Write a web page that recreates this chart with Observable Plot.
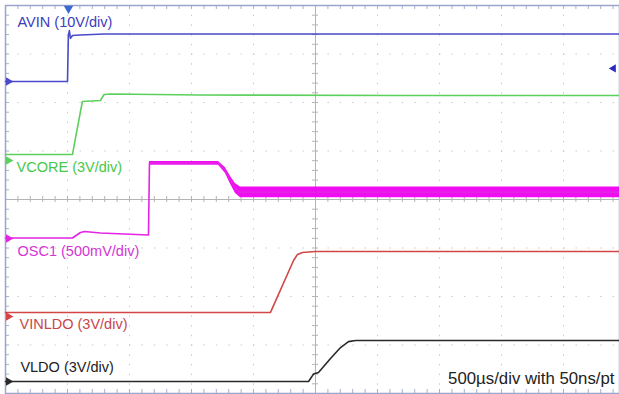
<!DOCTYPE html>
<html><head><meta charset="utf-8">
<script src="https://cdn.jsdelivr.net/npm/d3@7"></script>
<script src="https://cdn.jsdelivr.net/npm/@observablehq/plot@0.6"></script>
<style>
html,body{margin:0;padding:0;background:#fff;}
#chart{width:619px;height:394px;overflow:hidden;}
svg{display:block}
</style></head><body><div id="chart"></div>
<script>
// Time in µs (500 µs/div), 0 = screen centre. Voltages in V.
const avinT = [-2500, -2000, -1993, -1985, -1976, -1960, -1900, -1700, 2452];
const avinV = [0, 0, 9.5, 10.5, 8.9, 9.5, 9.6, 9.8, 9.8];
const vcoreT = [-2500, -1960, -1935, -1880, -1735, -1705, -1650, -930, 690, 2452];
const vcoreV = [0.37, 0.37, 1.42, 3.65, 3.71, 4.08, 4.11, 4.05, 4.02, 4.02];
const osc1T = [-2500, -1960, -1895, -1863, -1735, -1347, -1339, -1320, -782, -726, -685, -645, -605, 2452];
const osc1V = [0.005, 0.005, 0.062, 0.072, 0.057, 0.036, 0.775, 0.775, 0.775, 0.70, 0.60, 0.515, 0.475, 0.475];
const oscBandT = [-1339, -782, -726, -685, -645, -605, 2452];
const oscBandLo = [0.755, 0.755, 0.67, 0.56, 0.465, 0.42, 0.42];
const oscBandHi = [0.795, 0.795, 0.73, 0.64, 0.565, 0.53, 0.53];
const vinT = [-2500, -363, -177, -145, -105, 0, 2452];
const vinV = [0.25, 0.25, 3.46, 3.84, 3.96, 4.02, 4.02];
const vldoT = [-2500, -56, -16, 24, 121, 202, 266, 323, 2452];
const vldoV = [0, 0, 0.46, 0.56, 1.42, 2.10, 2.47, 2.54, 2.54];

const channelNames = ["AVIN (10V/div)", "VCORE (3V/div)", "OSC1 (500mV/div)", "VINLDO (3V/div)", "VLDO (3V/div)"];
const channelScale = [10, 3, 0.5, 3, 3];          // V/div
const channelOffset = [2.433, 0.804, -0.804, -2.412, -3.753]; // ground level, div from centre
const channelColor = ["#4a4acb", "#5cd05c", "#e424e4", "#d24646", "#2a2a2a"];
const labelColor = ["#3c3cc0", "#48c848", "#d634d6", "#c8464b", "#222222"];
const timebaseText = "500µs/div with 50ns/pt";
const triggerT = -1992;       // trigger position (µs)
const triggerLevelV = 2.7;    // AVIN trigger level (V)

const series = [[avinT, avinV], [vcoreT, vcoreV], [osc1T, osc1V], [vinT, vinV], [vldoT, vldoV]];
const toDiv = (i, v) => channelOffset[i] + v / channelScale[i];

const tracks = series.flatMap(([T, V], i) => T.map((t, k) => ({ch: i, t, y: toDiv(i, V[k])})));
const band = oscBandT.map((t, k) => ({t, lo: toDiv(2, oscBandLo[k]), hi: toDiv(2, oscBandHi[k])}));

const X0 = -2500, X1 = 2451.6;
const divs = d3.range(-4, 5).map(d => d * 500);
const ydivs = d3.range(-3, 4);
const subX = d3.range(-25, 25).map(d => d * 100);
const subY = d3.range(-20, 21).map(d => d * 0.2);
const pxX = 4952 / 614, pxY = 8 / 388;

const labels = channelNames.map((name, i) => ({name, i}));
const labelPos = [[-2403, 3.66], [-2411, 0.67], [-2403, -1.07], [-2387, -2.57], [-2380, -3.47]];

const chart = Plot.plot({
  width: 619, height: 394,
  marginLeft: 5, marginRight: 0, marginTop: 5, marginBottom: 1,
  x: {domain: [X0, X1], axis: null},
  y: {domain: [-4, 4], axis: null},
  style: {background: "#fff", fontFamily: "'Liberation Sans', Arial, sans-serif"},
  marks: [
    // dotted grid
    Plot.ruleX(divs.filter(d => d !== 0), {stroke: "#cacaca", strokeWidth: 1, strokeDasharray: "1.5 8.2"}),
    Plot.ruleY(ydivs.filter(d => d !== 0), {stroke: "#cacaca", strokeWidth: 1, strokeDasharray: "1.5 10.9"}),
    // centre axes
    Plot.ruleX([0], {stroke: "#b4b4b4", strokeWidth: 1}),
    Plot.ruleY([0], {stroke: "#b4b4b4", strokeWidth: 1}),
    Plot.ruleX(subX, {y1: -3 * pxY, y2: 3 * pxY, stroke: "#b4b4b4"}),
    Plot.ruleY(subY, {x1: -3 * pxX, x2: 3 * pxX, stroke: "#b4b4b4"}),
    // edge ticks
    Plot.ruleX(subX, {y1: 4, y2: 4 - 4 * pxY, stroke: "#a8b0cc"}),
    Plot.ruleX(subX, {y1: -4, y2: -4 + 4 * pxY, stroke: "#a8b0cc"}),
    Plot.ruleY(subY, {x1: X0, x2: X0 + 4 * pxX, stroke: "#a8b0cc"}),
    Plot.frame({stroke: "#9aa4cc", strokeWidth: 1.5}),
    // OSC1 noise envelope
    Plot.areaY(band, {x: "t", y1: "lo", y2: "hi", fill: "#f000f0", fillOpacity: 0.95}),
    // traces
    Plot.line(tracks, {x: "t", y: "y", z: "ch", stroke: d => channelColor[d.ch], strokeWidth: 1.6, curve: "linear"}),
    // ground markers
    Plot.dot(channelOffset.map((o, i) => ({o, i})), {x: X0, y: "o", symbol: "triangle", rotate: 90, r: 3.2, dx: 3, fill: d => channelColor[d.i], stroke: "none"}),
    Plot.dot([triggerT], {x: d => d, y: 4, symbol: "triangle", rotate: 180, r: 3.5, dy: 3, fill: "#3a6ad0", stroke: "none"}),
    Plot.dot([toDiv(0, triggerLevelV)], {x: 2403, y: d => d, symbol: "triangle", rotate: -90, r: 3, fill: "#2a2ac0", stroke: "none"}),
    // labels
    Plot.text(labels, {x: d => labelPos[d.i][0], y: d => labelPos[d.i][1], text: "name", textAnchor: "start", fontSize: 14.5, fill: d => labelColor[d.i]}),
    Plot.text([timebaseText], {x: X1, y: -3.69, dx: -5, text: d => d, textAnchor: "end", fontSize: 16.8, fill: "#222"})
  ]
});
document.getElementById("chart").append(chart);
</script></body></html>
